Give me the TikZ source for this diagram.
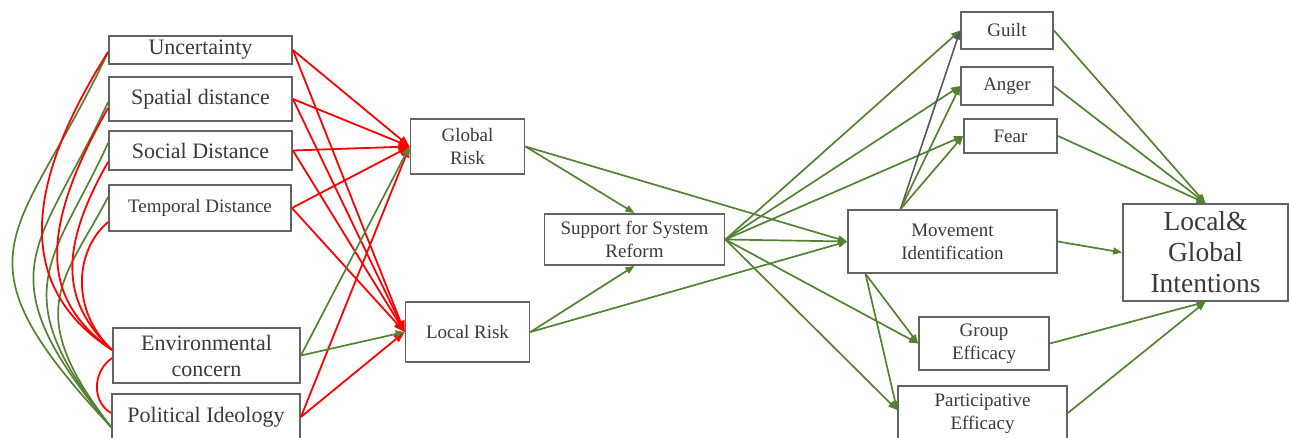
\documentclass[tikz,border=0pt]{standalone}
\usepackage{fontspec}
\setmainfont{Liberation Serif}
\newfontfamily\tnr{Liberation Serif}
\usetikzlibrary{arrows.meta}
\definecolor{gr}{HTML}{548235}
\definecolor{rd}{HTML}{FF0000}
\definecolor{bx}{HTML}{636363}
\definecolor{tx}{HTML}{3A3A3A}
\definecolor{gy}{HTML}{595959}
\tikzset{
 box/.style={draw=bx, line width=1.8pt, fill=white, text=tx, align=center, inner sep=0pt},
 gline/.style={draw=gr, line width=1.7pt},
 rline/.style={draw=rd, line width=1.8pt},
 garr/.style={gline, -{Triangle[length=9pt,width=7pt]}},
 yarr/.style={draw=gy, line width=1.6pt, -{Triangle[length=9pt,width=7pt]}},
 rarr/.style={rline, -{Triangle[length=11pt,width=8pt]}},
 fA/.style={font=\tnr\fontsize{22}{26}\selectfont},
 fB/.style={font=\tnr\fontsize{19}{23}\selectfont},
 fC/.style={font=\tnr\fontsize{27.5}{31}\selectfont},
}
\begin{document}
\begin{tikzpicture}[x=1pt,y=-1pt]
\useasboundingbox (0,0) rectangle (1289,438);
% nodes
\node[box,fA,minimum width=183pt,minimum height=28pt] (unc) at (200.5,50) {Uncertainty};
\node[box,fA,minimum width=183pt,minimum height=44pt] (spa) at (200.5,99) {Spatial distance};
\node[box,fA,minimum width=183pt,minimum height=39pt] (soc) at (200.5,150.5) {Social Distance};
\node[box,fB,minimum width=182pt,minimum height=46pt] (tem) at (200,208) {Temporal Distance};
\node[box,fA,minimum width=187pt,minimum height=55pt] (env) at (206.5,355.5) {Environmental\\concern};
\node[box,fA,minimum width=188pt,minimum height=46pt] (pol) at (206,417) {Political Ideology};
\node[box,fB,minimum width=114pt,minimum height=55pt] (glo) at (467.5,146.5) {Global\\Risk};
\node[box,fB,minimum width=124pt,minimum height=60pt] (loc) at (467.5,332) {Local Risk};
\node[box,fB,minimum width=180pt,minimum height=51pt] (sup) at (634.5,239.5) {Support for System\\Reform};
\node[box,fB,minimum width=209pt,minimum height=63pt] (mov) at (952.5,241.5) {Movement\\Identification};
\node[box,fB,minimum width=92pt,minimum height=37pt] (gui) at (1007,30.5) {Guilt};
\node[box,fB,minimum width=92pt,minimum height=38pt] (ang) at (1007,86) {Anger};
\node[box,fB,minimum width=93pt,minimum height=34pt] (fea) at (1010.5,136) {Fear};
\node[box,fC,minimum width=165pt,minimum height=97pt] (int) at (1205.5,252.5) {Local\&\\Global\\Intentions};
\node[box,fB,minimum width=130pt,minimum height=53pt] (grp) at (984,343.5) {Group\\Efficacy};
\node[box,fB,minimum width=169pt,minimum height=56pt] (par) at (982.5,414) {Participative\\Efficacy};
% left correlation curves
\draw[gline] ([yshift=-2pt]unc.west) .. controls (20,240) and (-55,250) .. ([yshift=-10pt]pol.west);
\draw[gline] ([yshift=-3pt]spa.west) .. controls (40,250) and (-20,270) .. ([yshift=-10pt]pol.west);
\draw[gline] ([yshift=7.5pt]soc.west) .. controls (55,260) and (0,290) .. ([yshift=-10pt]pol.west);
\draw[gline] ([yshift=11pt]tem.west) .. controls (65,280) and (20,310) .. ([yshift=-10pt]pol.west);
\draw[rline] ([yshift=-2pt]unc.west) .. controls (5,215) and (35,300) .. ([yshift=5.5pt]env.west);
\draw[rline] ([yshift=-9pt]spa.west) .. controls (30,245) and (50,305) .. ([yshift=5.5pt]env.west);
\draw[rline] ([yshift=-11.5pt]soc.west) .. controls (55,255) and (65,305) .. ([yshift=5.5pt]env.west);
\draw[rline] ([yshift=-14pt]tem.west) .. controls (75,250) and (70,310) .. ([yshift=5.5pt]env.west);
\draw[rline] ([yshift=-2.5pt]env.west) .. controls (92,372) and (92,402) .. ([yshift=4pt]pol.west);
% predictors to risk
\foreach \s in {unc,spa,soc,tem,pol} {
  \draw[rarr] (\s.east) -- (glo.west);
  \draw[rarr] (\s.east) -- (loc.west);
}
\draw[garr] (env.east) -- (glo.west);
\draw[garr] (env.east) -- (loc.west);
% risk to support / movement
\draw[garr] (glo.east) -- (sup.north);
\draw[garr] (glo.east) -- (mov.west);
\draw[garr] (loc.east) -- (sup.south);
\draw[garr] (loc.east) -- (mov.west);
% support outgoing
\foreach \t in {gui,ang,fea,mov,grp} { \draw[garr] (sup.east) -- (\t.west); }
\draw[garr] (sup.east) -- ([yshift=4pt]par.west);
% movement outgoing
\coordinate (mt) at ([xshift=-52pt]mov.north);
\coordinate (mb) at ([xshift=-87pt]mov.south);
\draw[yarr] (mt) -- (gui.west);
\draw[garr] (mt) -- (ang.west);
\draw[garr] (mt) -- (fea.west);
\draw[garr] (mb) -- (grp.west);
\draw[garr] (mb) -- ([yshift=4pt]par.west);
\draw[garr] (mov.east) -- (int.west);
% to intentions
\foreach \s in {gui,ang,fea} { \draw[garr] (\s.east) -- (int.north); }
\draw[garr] (grp.east) -- (int.south);
\draw[garr] ([yshift=1pt]par.east) -- (int.south);
\end{tikzpicture}
\end{document}
